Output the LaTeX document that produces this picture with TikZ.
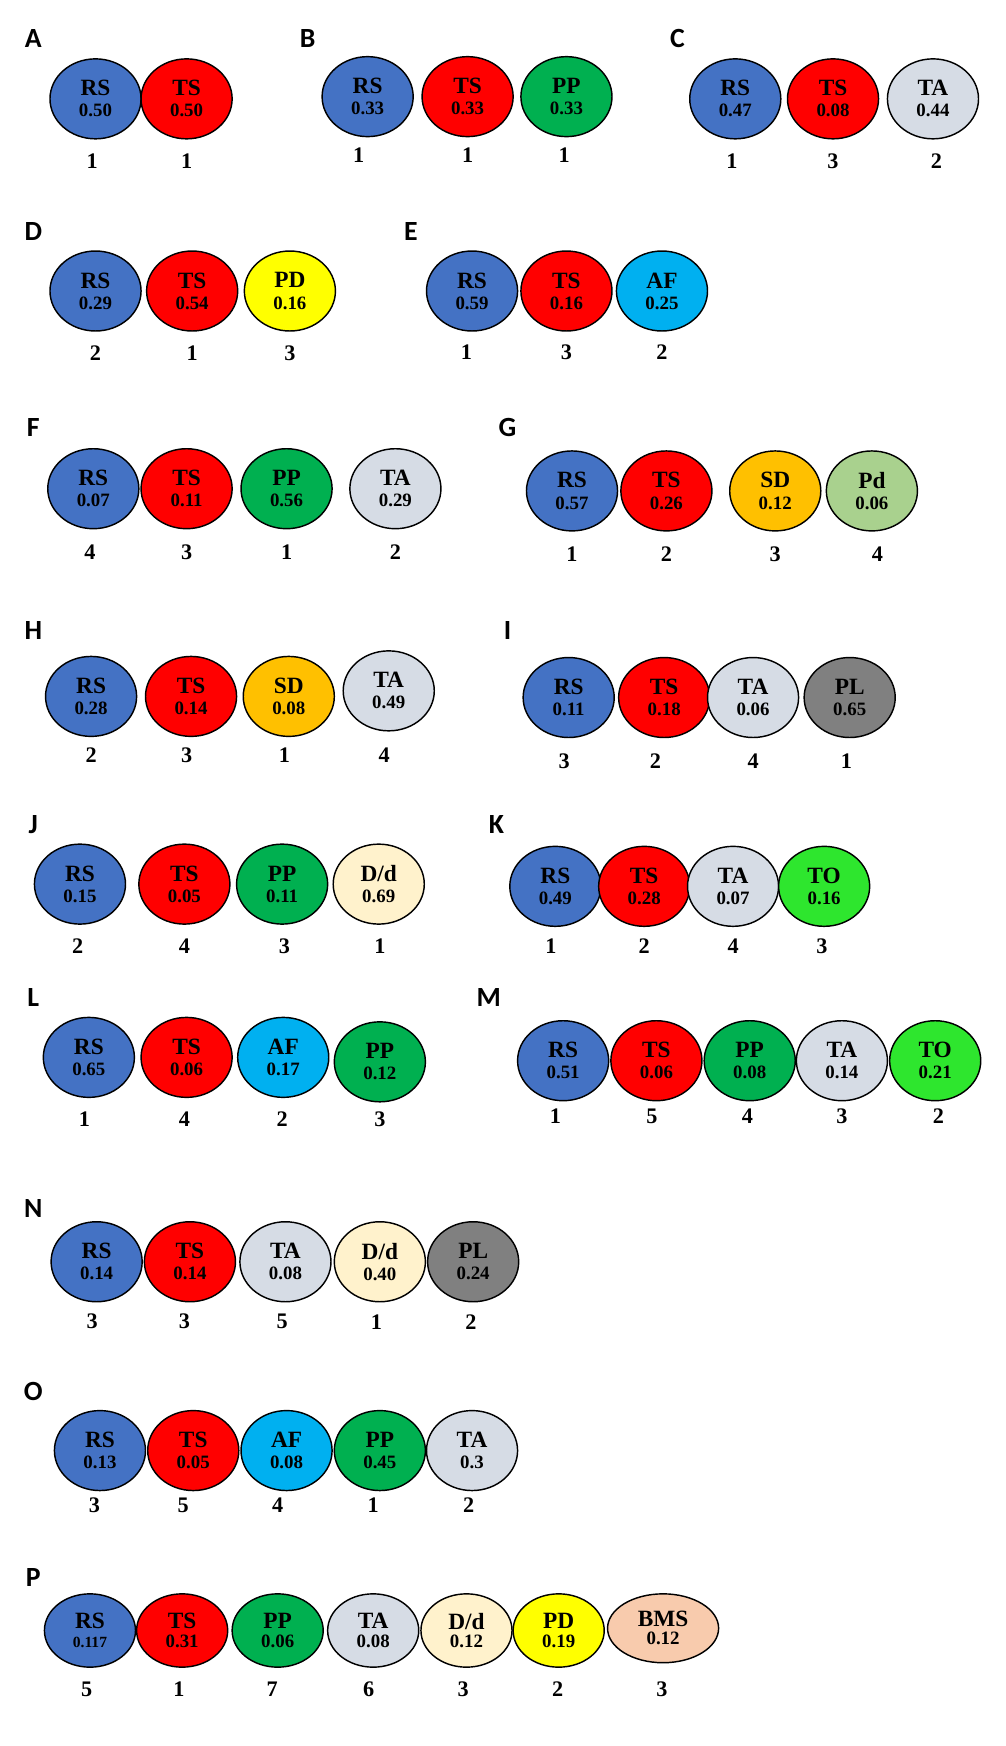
\documentclass[tikz,border=0pt]{standalone}
\usetikzlibrary{shapes.geometric}
\usepackage{fontspec}
\setmainfont{Liberation Serif}
\newfontfamily\lab{Carlito}
\definecolor{cRS}{HTML}{4472C4}\definecolor{cTS}{HTML}{FF0000}
\definecolor{cPP}{HTML}{00B050}\definecolor{cTA}{HTML}{D6DCE5}
\definecolor{cPD}{HTML}{FFFF00}\definecolor{cAF}{HTML}{00B0F0}
\definecolor{cSD}{HTML}{FFC000}\definecolor{cPd}{HTML}{A9D18E}
\definecolor{cPL}{HTML}{808080}\definecolor{cDd}{HTML}{FFF2CC}
\definecolor{cTO}{HTML}{2EE62E}\definecolor{cBMS}{HTML}{F8CBAD}
\newcommand\nm[3]{\node[num] (#1) at (#2) {#3};}
\newcommand\pl[3]{\node[panel] (#1) at (#2) {#3};}
\newcommand\E[5]{\node[ell,fill=c#4] (#1) at (#2) {\fontsize{21}{24}\selectfont #3\\[7pt]\fontsize{17}{20}\selectfont #5};}
\newcommand\EP[5]{\node[ell,fill=c#4,minimum height=66pt] (#1) at (#2) {\fontsize{21}{24}\selectfont #3\\[5pt]\fontsize{17}{20}\selectfont #5};}
\begin{document}
\begin{tikzpicture}[x=1pt,y=-1pt,
 ell/.style={draw=black,line width=1.3pt,ellipse,minimum width=82pt,minimum height=72pt,inner sep=0pt,align=center,font=\bfseries},
 num/.style={font=\fontsize{20}{20}\selectfont\bfseries},
 panel/.style={font=\lab\fontsize{25}{25}\selectfont\bfseries}]
\useasboundingbox (0,0) rectangle (905,1572);
% A
\pl{pA}{30,35}{A}
\E{A1}{86,89}{RS}{RS}{0.50}\E{A2}{168,89}{TS}{TS}{0.50}
\nm{nA1}{83,145}{1}\nm{nA2}{168,145}{1}
% B
\pl{pB}{277,35}{B}
\E{B1}{331,87}{RS}{RS}{0.33}\E{B2}{421,87}{TS}{TS}{0.33}\E{B3}{510,87}{PP}{PP}{0.33}
\nm{nB1}{323,140}{1}\nm{nB2}{421,140}{1}\nm{nB3}{508,140}{1}
% C
\pl{pC}{610,35}{C}
\E{C1}{662,89}{RS}{RS}{0.47}\E{C2}{750,89}{TS}{TS}{0.08}\E{C3}{840,89}{TA}{TA}{0.44}
\nm{nC1}{659,145}{1}\nm{nC2}{750,145}{3}\nm{nC3}{843,145}{2}
% D
\pl{pD}{30,208}{D}
\E{D1}{86,262}{RS}{RS}{0.29}\E{D2}{173,262}{TS}{TS}{0.54}\E{D3}{261,262}{PD}{PD}{0.16}
\nm{nD1}{86,318}{2}\nm{nD2}{173,318}{1}\nm{nD3}{261,318}{3}
% E
\pl{pE}{370,208}{E}
\E{E1}{425,262}{RS}{RS}{0.59}\E{E2}{510,262}{TS}{TS}{0.16}\E{E3}{596,262}{AF}{AF}{0.25}
\nm{nE1}{420,317}{1}\nm{nE2}{510,317}{3}\nm{nE3}{596,317}{2}
% F
\pl{pF}{30,385}{F}
\E{F1}{84,440}{RS}{RS}{0.07}\E{F2}{168,440}{TS}{TS}{0.11}\E{F3}{258,440}{PP}{PP}{0.56}\E{F4}{356,440}{TA}{TA}{0.29}
\nm{nF1}{81,497}{4}\nm{nF2}{168,497}{3}\nm{nF3}{258,497}{1}\nm{nF4}{356,497}{2}
% G
\pl{pG}{457,385}{G}
\E{G1}{515,442}{RS}{RS}{0.57}\E{G2}{600,442}{TS}{TS}{0.26}\E{G3}{698,442}{SD}{SD}{0.12}\E{G4}{785,442}{Pd}{Pd}{0.06}
\nm{nG1}{515,499}{1}\nm{nG2}{600,499}{2}\nm{nG3}{698,499}{3}\nm{nG4}{790,499}{4}
% H
\pl{pH}{30,568}{H}
\E{H1}{82,627}{RS}{RS}{0.28}\E{H2}{172,627}{TS}{TS}{0.14}\E{H3}{260,627}{SD}{SD}{0.08}\E{H4}{350,622}{TA}{TA}{0.49}
\nm{nH1}{82,680}{2}\nm{nH2}{168,680}{3}\nm{nH3}{256,680}{1}\nm{nH4}{346,680}{4}
% I
\pl{pI}{457,568}{I}
\E{I1}{512,628}{RS}{RS}{0.11}\E{I2}{598,628}{TS}{TS}{0.18}\E{I3}{678,628}{TA}{TA}{0.06}\E{I4}{765,628}{PL}{PL}{0.65}
\nm{nI1}{508,685}{3}\nm{nI2}{590,685}{2}\nm{nI3}{678,685}{4}\nm{nI4}{762,685}{1}
% J
\pl{pJ}{30,742}{J}
\E{J1}{72,796}{RS}{RS}{0.15}\E{J2}{166,796}{TS}{TS}{0.05}\E{J3}{254,796}{PP}{PP}{0.11}\E{J4}{341,796}{D/d}{Dd}{0.69}
\nm{nJ1}{70,852}{2}\nm{nJ2}{166,852}{4}\nm{nJ3}{256,852}{3}\nm{nJ4}{342,852}{1}
% K
\pl{pK}{447,742}{K}
\E{K1}{500,798}{RS}{RS}{0.49}\E{K2}{580,798}{TS}{TS}{0.28}\E{K3}{660,798}{TA}{TA}{0.07}\E{K4}{742,798}{TO}{TO}{0.16}
\nm{nK1}{496,852}{1}\nm{nK2}{580,852}{2}\nm{nK3}{660,852}{4}\nm{nK4}{740,852}{3}
% L
\pl{pL}{30,898}{L}
\E{L1}{80,952}{RS}{RS}{0.65}\E{L2}{168,952}{TS}{TS}{0.06}\E{L3}{255,952}{AF}{AF}{0.17}\E{L4}{342,956}{PP}{PP}{0.12}
\nm{nL1}{76,1008}{1}\nm{nL2}{166,1008}{4}\nm{nL3}{254,1008}{2}\nm{nL4}{342,1008}{3}
% M
\pl{pM}{440,898}{M}
\E{M1}{507,955}{RS}{RS}{0.51}\E{M2}{591,955}{TS}{TS}{0.06}\E{M3}{675,955}{PP}{PP}{0.08}\E{M4}{758,955}{TA}{TA}{0.14}\E{M5}{842,955}{TO}{TO}{0.21}
\nm{nM1}{500,1005}{1}\nm{nM2}{587,1005}{5}\nm{nM3}{673,1005}{4}\nm{nM4}{758,1005}{3}\nm{nM5}{845,1005}{2}
% N
\pl{pN}{30,1088}{N}
\E{N1}{87,1136}{RS}{RS}{0.14}\E{N2}{171,1136}{TS}{TS}{0.14}\E{N3}{257,1136}{TA}{TA}{0.08}\E{N4}{342,1136}{D/d}{Dd}{0.40}\E{N5}{426,1136}{PL}{PL}{0.24}
\nm{nN1}{83,1190}{3}\nm{nN2}{166,1190}{3}\nm{nN3}{254,1190}{5}\nm{nN4}{339,1190}{1}\nm{nN5}{424,1190}{2}
% O
\pl{pO}{30,1253}{O}
\E{O1}{90,1306}{RS}{RS}{0.13}\E{O2}{174,1306}{TS}{TS}{0.05}\E{O3}{258,1306}{AF}{AF}{0.08}\E{O4}{342,1306}{PP}{PP}{0.45}\E{O5}{425,1306}{TA}{TA}{0.3}
\nm{nO1}{85,1355}{3}\nm{nO2}{165,1355}{5}\nm{nO3}{250,1355}{4}\nm{nO4}{336,1355}{1}\nm{nO5}{422,1355}{2}
% P
\pl{pP}{30,1420}{P}
\EP{P1}{81,1468}{RS}{RS}{\fontsize{14}{16}\selectfont 0.117}\EP{P2}{164,1468}{TS}{TS}{0.31}\EP{P3}{250,1468}{PP}{PP}{0.06}\EP{P4}{336,1468}{TA}{TA}{0.08}\EP{P5}{420,1468}{D/d}{Dd}{0.12}\EP{P6}{503,1468}{PD}{PD}{0.19}
\node[ell,fill=cBMS,minimum width=100pt,minimum height=62pt] (P7) at (597,1466) {\fontsize{21}{24}\selectfont BMS\\[4pt]\fontsize{17}{20}\selectfont 0.12};
\nm{nP1}{78,1521}{5}\nm{nP2}{161,1521}{1}\nm{nP3}{245,1521}{7}\nm{nP4}{332,1521}{6}\nm{nP5}{417,1521}{3}\nm{nP6}{502,1521}{2}\nm{nP7}{596,1521}{3}
\end{tikzpicture}
\end{document}
